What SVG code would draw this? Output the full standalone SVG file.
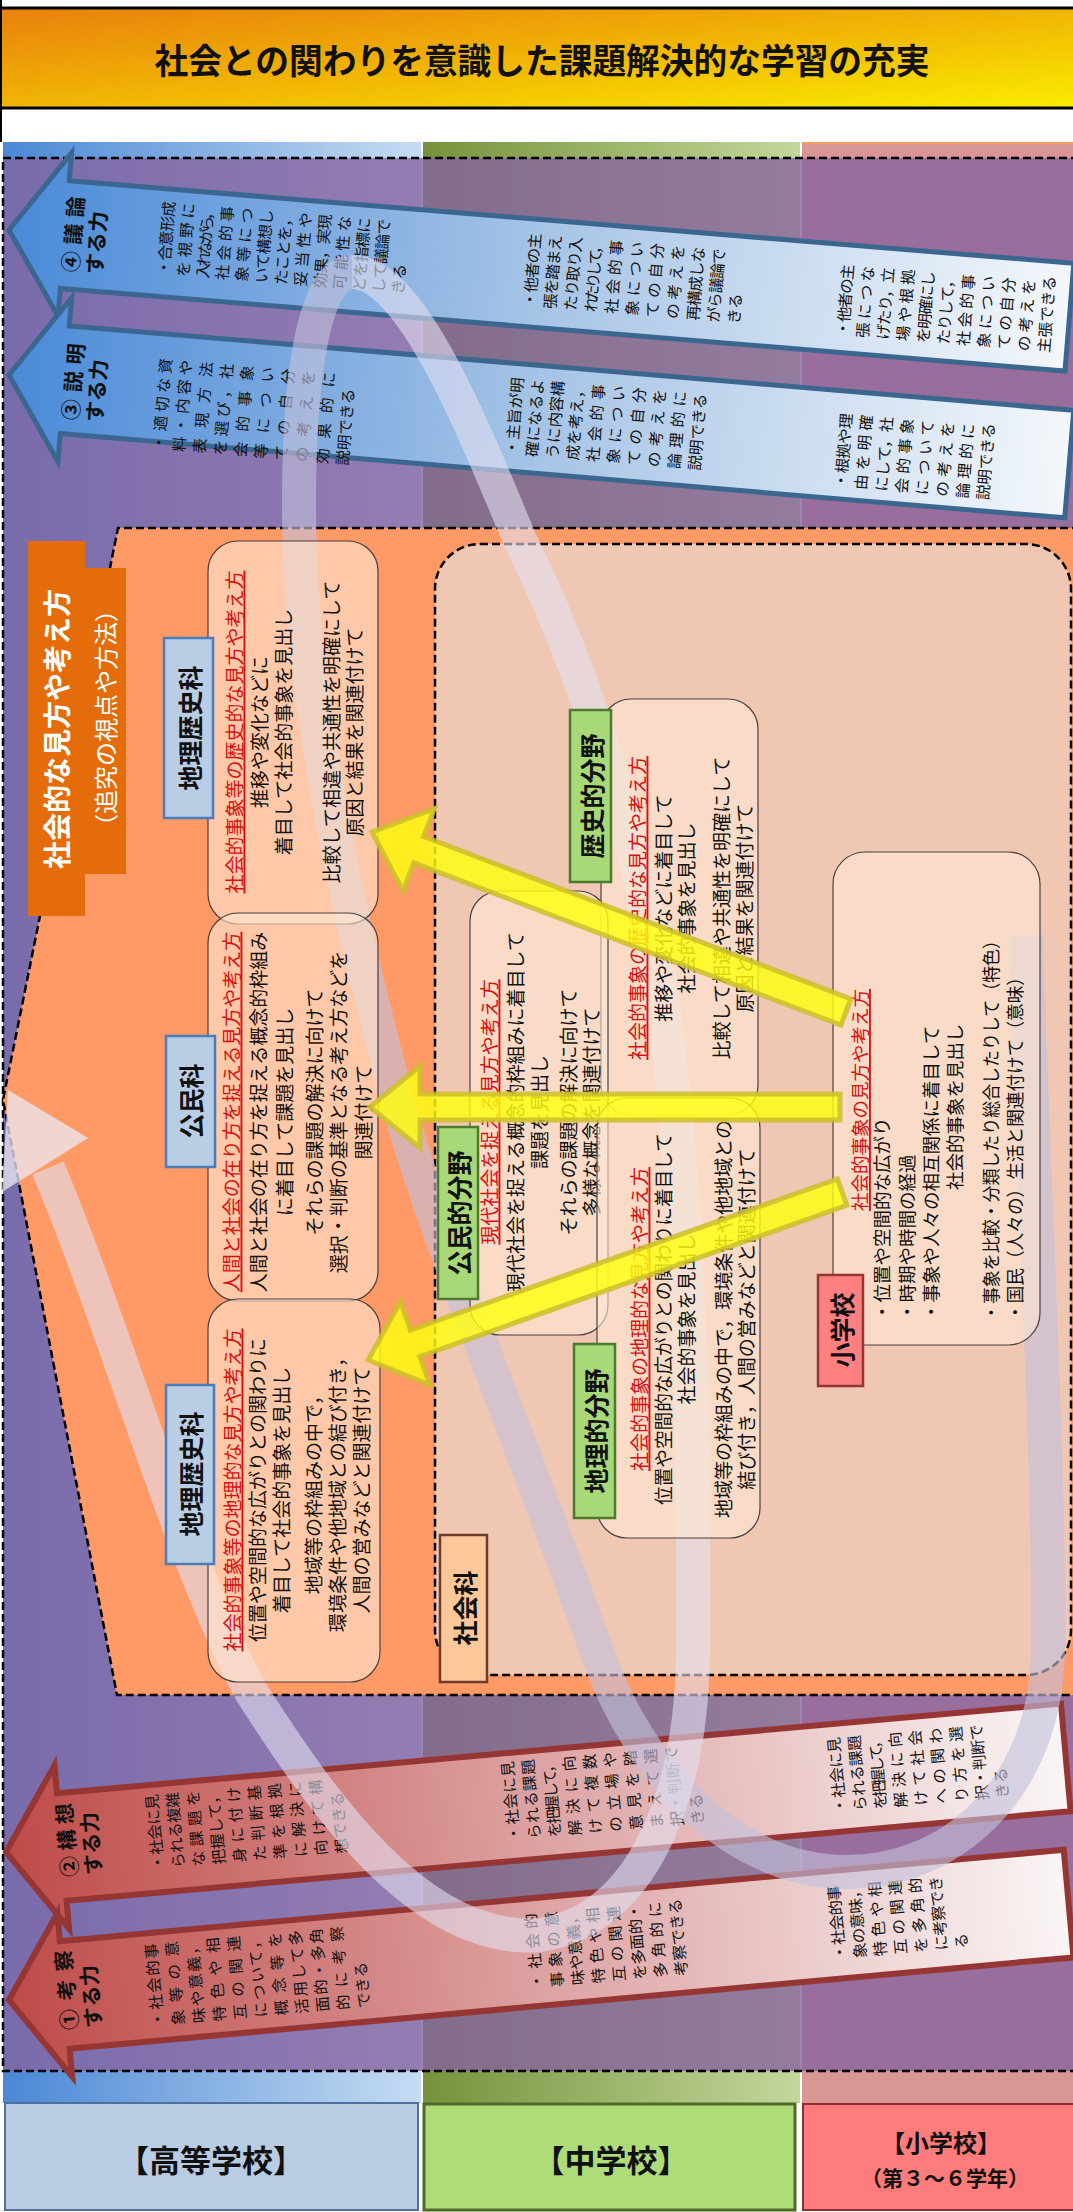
<svg xmlns="http://www.w3.org/2000/svg" width="1073" height="2212" viewBox="0 0 1073 2212">
<defs>
<linearGradient id="gTitle" x1="0" y1="0" x2="1" y2="1"><stop offset="0" stop-color="#E8800C"/><stop offset="0.55" stop-color="#F2BA04"/><stop offset="1" stop-color="#FAEC00"/></linearGradient>
<linearGradient id="gBlueCol" x1="0" y1="0" x2="1" y2="0"><stop offset="0" stop-color="#4A88D6"/><stop offset="1" stop-color="#C6DCF2"/></linearGradient>
<linearGradient id="gGreenCol" x1="0" y1="0" x2="1" y2="0"><stop offset="0" stop-color="#76923C"/><stop offset="1" stop-color="#C4D79B"/></linearGradient>
<linearGradient id="gBlueArrow" x1="0" y1="0" x2="1" y2="0"><stop offset="0" stop-color="#4A8AD8"/><stop offset="0.5" stop-color="#A6C4E6"/><stop offset="1" stop-color="#F4F7FB"/></linearGradient>
<linearGradient id="gRedArrow" x1="0" y1="0" x2="1" y2="0"><stop offset="0" stop-color="#BE4B48"/><stop offset="0.5" stop-color="#DDA2A2"/><stop offset="1" stop-color="#FAF5F5"/></linearGradient>
<path id="bigArrow" d="M0,0 L56,-82 L56,-54 L1064,-54 L1064,54 L56,54 L56,82 Z"/>
<style>
text{font-family:"Noto Sans CJK JP","Noto Sans CJK SC",sans-serif;}
.at text{font-size:15.5px;fill:#111;dominant-baseline:central;}
.al text{font-size:21px;font-weight:bold;fill:#111;dominant-baseline:central;}
.bt text{font-size:19px;fill:#111;text-anchor:middle;dominant-baseline:central;}
.bt text.rh{fill:#D91010;text-decoration:underline;}
.es text{font-size:18.5px;fill:#111;dominant-baseline:central;}
.es text.rh{fill:#D91010;text-decoration:underline;text-anchor:middle;}
.lb text{font-size:25px;font-weight:bold;fill:#111;text-anchor:middle;dominant-baseline:central;}
.blueA{fill:url(#gBlueArrow);stroke:#3B6690;stroke-width:5;stroke-linejoin:miter;}
.redA{fill:url(#gRedArrow);stroke:#963634;stroke-width:6;stroke-linejoin:miter;}
.box{fill:#FFE8D4;fill-opacity:0.6;stroke:#4A4040;stroke-width:1.2;}
.hsLab{fill:#B9CDE5;stroke:#4A7EBB;stroke-width:2.5;}
.msLab{fill:#A8D878;stroke:#4E7A2E;stroke-width:2.5;}
.yel{fill:#FFFF10;fill-opacity:0.82;stroke:#CDBE2A;stroke-width:5;stroke-opacity:0.85;stroke-linejoin:miter;}
.dash{fill:none;stroke:#000;stroke-width:2.5;stroke-dasharray:8 4;}
</style>
</defs>
<rect width="1073" height="2212" fill="#FFFFFF"/>

<!-- title -->
<g id="title">
<rect x="-3" y="8" width="1080" height="100" fill="url(#gTitle)" stroke="#000" stroke-width="3"/>
<line x1="1" y1="0" x2="1" y2="142" stroke="#000" stroke-width="2"/>
<text x="542" y="58" font-size="35" font-weight="bold" textLength="775" lengthAdjust="spacingAndGlyphs" text-anchor="middle" dominant-baseline="central" fill="#111">社会との関わりを意識した課題解決的な学習の充実</text>
</g>

<!-- school columns -->
<g id="columns">
<rect x="3" y="142" width="418" height="1961" fill="url(#gBlueCol)"/>
<rect x="423" y="142" width="377" height="1961" fill="url(#gGreenCol)"/>
<rect x="802" y="142" width="273" height="1961" fill="#D99694"/>
<line x1="802" y1="143" x2="1073" y2="143" stroke="#F0A060" stroke-width="2"/>
<rect x="3" y="158" width="1075" height="1913" fill="#8763A0" fill-opacity="0.79"/>
<rect x="3" y="158" width="1075" height="1913" class="dash"/>
</g>

<!-- big orange area -->
<g id="orange-area">
<path d="M118,528 L1080,528 L1080,1695 L117,1695 L3,1100 Z" fill="#FF9966"/>
<path d="M1080,528 L118,528 L3,1100 L117,1695 L1080,1695" class="dash"/>
<rect x="435" y="544" width="636" height="1131" rx="45" fill="#EFC7B3"/>
<rect x="435" y="544" width="636" height="1131" rx="45" class="dash"/>
</g>

<!-- thinking skill arrows -->
<g id="arrow4">
<use href="#bigArrow" class="blueA" transform="translate(9,230) rotate(4.7)"/>
<g class="al" transform="translate(69,272) rotate(-85.3)"><text y="0" textLength="76" lengthAdjust="spacing">④議論</text><text y="24">する力</text></g>
<g class="at" transform="translate(162,275) rotate(-85.3)">
<text y="0" textLength="74" lengthAdjust="spacing">・合意形成</text><text y="19.6" textLength="74" lengthAdjust="spacing">を視野に</text><text y="39.2" textLength="74" lengthAdjust="spacing">入れながら，</text><text y="58.8" textLength="74" lengthAdjust="spacing">社会的事</text><text y="78.4" textLength="74" lengthAdjust="spacing">象等につ</text><text y="98" textLength="74" lengthAdjust="spacing">いて構想し</text><text y="117.6" textLength="74" lengthAdjust="spacing">たことを，</text><text y="137.2" textLength="74" lengthAdjust="spacing">妥当性や</text><text y="156.8" textLength="74" lengthAdjust="spacing">効果，実現</text><text y="176.4" textLength="74" lengthAdjust="spacing">可能性な</text><text y="196" textLength="74" lengthAdjust="spacing">どを指標に</text><text y="215.6" textLength="74" lengthAdjust="spacing">して議論で</text><text y="235.2">きる</text>
</g>
<g class="at" transform="translate(528,307) rotate(-85.3)">
<text y="0" textLength="74" lengthAdjust="spacing">・他者の主</text><text y="20.5" textLength="74" lengthAdjust="spacing">張を踏まえ</text><text y="41" textLength="74" lengthAdjust="spacing">たり取り入</text><text y="61.5" textLength="74" lengthAdjust="spacing">れたりして，</text><text y="82" textLength="74" lengthAdjust="spacing">社会的事</text><text y="102.5" textLength="74" lengthAdjust="spacing">象につい</text><text y="123" textLength="74" lengthAdjust="spacing">ての自分</text><text y="143.5" textLength="74" lengthAdjust="spacing">の考えを</text><text y="164" textLength="74" lengthAdjust="spacing">再構成しな</text><text y="184.5" textLength="74" lengthAdjust="spacing">がら議論で</text><text y="205">きる</text>
</g>
<g class="at" transform="translate(841,336) rotate(-85.3)">
<text y="0" textLength="72" lengthAdjust="spacing">・他者の主</text><text y="20.2" textLength="72" lengthAdjust="spacing">張につな</text><text y="40.4" textLength="72" lengthAdjust="spacing">げたり，立</text><text y="60.6" textLength="72" lengthAdjust="spacing">場や根拠</text><text y="80.8" textLength="72" lengthAdjust="spacing">を明確にし</text><text y="101" textLength="72" lengthAdjust="spacing">たりして，</text><text y="121.2" textLength="72" lengthAdjust="spacing">社会的事</text><text y="141.4" textLength="72" lengthAdjust="spacing">象につい</text><text y="161.6" textLength="72" lengthAdjust="spacing">ての自分</text><text y="181.8" textLength="72" lengthAdjust="spacing">の考えを</text><text y="202">主張できる</text>
</g>
</g>

<g id="arrow3">
<use href="#bigArrow" class="blueA" transform="translate(9,375) rotate(4.8)"/>
<g class="al" transform="translate(69,420) rotate(-85.2)"><text y="0" textLength="77" lengthAdjust="spacing">③説明</text><text y="24">する力</text></g>
<g class="at" transform="translate(157,450) rotate(-85.2)">
<text y="0" textLength="92" lengthAdjust="spacing">・適切な資</text><text y="20.5" textLength="92" lengthAdjust="spacing">料・内容や</text><text y="41" textLength="92" lengthAdjust="spacing">表現方法</text><text y="61.5" textLength="92" lengthAdjust="spacing">を選び，社</text><text y="82" textLength="92" lengthAdjust="spacing">会的事象</text><text y="102.5" textLength="92" lengthAdjust="spacing">等につい</text><text y="123" textLength="92" lengthAdjust="spacing">ての自分</text><text y="143.5" textLength="92" lengthAdjust="spacing">の考えを</text><text y="164" textLength="92" lengthAdjust="spacing">効果的に</text><text y="184.5">説明できる</text>
</g>
<g class="at" transform="translate(510,455) rotate(-85.2)">
<text y="0" textLength="78" lengthAdjust="spacing">・主旨が明</text><text y="20.4" textLength="78" lengthAdjust="spacing">確になるよ</text><text y="40.8" textLength="78" lengthAdjust="spacing">うに内容構</text><text y="61.2" textLength="78" lengthAdjust="spacing">成を考え，</text><text y="81.6" textLength="78" lengthAdjust="spacing">社会的事</text><text y="102" textLength="78" lengthAdjust="spacing">象につい</text><text y="122.4" textLength="78" lengthAdjust="spacing">ての自分</text><text y="142.8" textLength="78" lengthAdjust="spacing">の考えを</text><text y="163.2" textLength="78" lengthAdjust="spacing">論理的に</text><text y="183.6">説明できる</text>
</g>
<g class="at" transform="translate(839,488) rotate(-85.2)">
<text y="0" textLength="75" lengthAdjust="spacing">・根拠や理</text><text y="20.4" textLength="75" lengthAdjust="spacing">由を明確</text><text y="40.8" textLength="75" lengthAdjust="spacing">にして，社</text><text y="61.2" textLength="75" lengthAdjust="spacing">会的事象</text><text y="81.6" textLength="75" lengthAdjust="spacing">について</text><text y="102" textLength="75" lengthAdjust="spacing">の考えを</text><text y="122.4" textLength="75" lengthAdjust="spacing">論理的に</text><text y="142.8">説明できる</text>
</g>
</g>

<g id="arrow2">
<use href="#bigArrow" class="redA" transform="translate(6,1852) rotate(-5.1)"/>
<g class="al" transform="translate(69,1877) rotate(-95.1)"><text y="0" textLength="74" lengthAdjust="spacing">②構想</text><text y="24">する力</text></g>
<g class="at" transform="translate(157,1870) rotate(-95.1)">
<text y="0" textLength="76" lengthAdjust="spacing">・社会に見</text><text y="20.5" textLength="76" lengthAdjust="spacing">られる複雑</text><text y="41" textLength="76" lengthAdjust="spacing">な課題を</text><text y="61.5" textLength="76" lengthAdjust="spacing">把握して，</text><text y="82" textLength="76" lengthAdjust="spacing">身に付け</text><text y="102.5" textLength="76" lengthAdjust="spacing">た判断基</text><text y="123" textLength="76" lengthAdjust="spacing">準を根拠</text><text y="143.5" textLength="76" lengthAdjust="spacing">に解決に</text><text y="164" textLength="76" lengthAdjust="spacing">向けて構</text><text y="184.5">想できる</text>
</g>
<g class="at" transform="translate(513,1841) rotate(-95.1)">
<text y="0" textLength="80" lengthAdjust="spacing">・社会に見</text><text y="20.5" textLength="80" lengthAdjust="spacing">られる課題</text><text y="41" textLength="80" lengthAdjust="spacing">を把握して，</text><text y="61.5" textLength="80" lengthAdjust="spacing">解決に向</text><text y="82" textLength="80" lengthAdjust="spacing">けて複数</text><text y="102.5" textLength="80" lengthAdjust="spacing">の立場や</text><text y="123" textLength="80" lengthAdjust="spacing">意見を踏</text><text y="143.5" textLength="80" lengthAdjust="spacing">まえて選</text><text y="164" textLength="80" lengthAdjust="spacing">択・判断で</text><text y="184.5">きる</text>
</g>
<g class="at" transform="translate(839,1813) rotate(-95.1)">
<text y="0" textLength="76" lengthAdjust="spacing">・社会に見</text><text y="20.4" textLength="76" lengthAdjust="spacing">られる課題</text><text y="40.8" textLength="76" lengthAdjust="spacing">を把握して，</text><text y="61.2" textLength="76" lengthAdjust="spacing">解決に向</text><text y="81.6" textLength="76" lengthAdjust="spacing">けて社会</text><text y="102" textLength="76" lengthAdjust="spacing">への関わ</text><text y="122.4" textLength="76" lengthAdjust="spacing">り方を選</text><text y="142.8" textLength="76" lengthAdjust="spacing">択・判断で</text><text y="163.2">きる</text>
</g>
</g>

<g id="arrow1">
<use href="#bigArrow" class="redA" transform="translate(9,2000) rotate(-5.2)"/>
<g class="al" transform="translate(69,2030) rotate(-95.2)"><text y="0" textLength="80" lengthAdjust="spacing">①考察</text><text y="24">する力</text></g>
<g class="at" transform="translate(157,2027) rotate(-95.2)">
<text y="0" textLength="84" lengthAdjust="spacing">・社会的事</text><text y="20.7" textLength="84" lengthAdjust="spacing">象等の意</text><text y="41.4" textLength="84" lengthAdjust="spacing">味や意義，</text><text y="62.1" textLength="84" lengthAdjust="spacing">特色や相</text><text y="82.8" textLength="84" lengthAdjust="spacing">互の関連</text><text y="103.5" textLength="84" lengthAdjust="spacing">について，</text><text y="124.2" textLength="84" lengthAdjust="spacing">概念等を</text><text y="144.9" textLength="84" lengthAdjust="spacing">活用して多</text><text y="165.6" textLength="84" lengthAdjust="spacing">面的・多角</text><text y="186.3" textLength="84" lengthAdjust="spacing">的に考察</text><text y="207">できる</text>
</g>
<g class="at" transform="translate(536,1989) rotate(-95.2)">
<text y="0" textLength="76" lengthAdjust="spacing">・社会的</text><text y="20.7" textLength="76" lengthAdjust="spacing">事象の意</text><text y="41.4" textLength="76" lengthAdjust="spacing">味や意義，</text><text y="62.1" textLength="76" lengthAdjust="spacing">特色や相</text><text y="82.8" textLength="76" lengthAdjust="spacing">互の関連</text><text y="103.5" textLength="76" lengthAdjust="spacing">を多面的・</text><text y="124.2" textLength="76" lengthAdjust="spacing">多角的に</text><text y="144.9">考察できる</text>
</g>
<g class="at" transform="translate(839,1960) rotate(-95.2)">
<text y="0" textLength="75" lengthAdjust="spacing">・社会的事</text><text y="20.4" textLength="75" lengthAdjust="spacing">象の意味，</text><text y="40.8" textLength="75" lengthAdjust="spacing">特色や相</text><text y="61.2" textLength="75" lengthAdjust="spacing">互の関連</text><text y="81.6" textLength="75" lengthAdjust="spacing">を多角的</text><text y="102" textLength="75" lengthAdjust="spacing">に考察でき</text><text y="122.4">る</text>
</g>
</g>

<!-- spiral bands -->
<g id="connectors">
<path d="M1026,936 C1034,1200 1050,1480 1048,1650 C1046,1790 950,1875 840,1872 C730,1868 640,1770 600,1660 C540,1490 440,1250 400,1110 C360,960 310,760 300,560 C295,400 310,272 352,272" fill="none" stroke="#C4C0DC" stroke-opacity="0.62" stroke-width="34"/>
<path d="M352,272 C410,272 470,420 520,540 C560,620 600,720 640,880 C680,1050 695,1300 693,1650 C692,1800 640,1920 540,1935 C420,1945 320,1800 250,1690 C180,1560 120,1340 48,1168" fill="none" stroke="#E2E0F0" stroke-opacity="0.6" stroke-width="34"/>
<polygon points="8,1090 88,1138 2,1192" fill="#ECEAF4" fill-opacity="0.75"/>
</g>

<!-- orange heading -->
<g id="viewpoint-label">
<path d="M28,541 H85 V568 H126 V874 H85 V916 H28 Z" fill="#E46C0A"/>
<g transform="translate(0,729) rotate(-90)"><text x="0" y="56" font-size="28" font-weight="bold" fill="#FFFFFF" text-anchor="middle" dominant-baseline="central">社会的な見方や考え方</text></g>
<g transform="translate(0,718) rotate(-90)"><text x="0" y="104" font-size="24" fill="#FFFFFF" text-anchor="middle" dominant-baseline="central">（追究の視点や方法）</text></g>
</g>

<!-- high school boxes -->
<g id="hs-history">
<rect x="208" y="541" width="170" height="383" rx="30" class="box"/>
<g class="bt" transform="translate(0,732) rotate(-90)">
<text class="rh" y="233">社会的事象等の歴史的な見方や考え方</text>
<text y="258">推移や変化などに</text>
<text y="282">着目して社会的事象を見出し</text>
<text y="330">比較して相違や共通性を明確にして</text>
<text y="353">原因と結果を関連付けて</text>
</g>
<rect x="164" y="638" width="49" height="180" class="hsLab"/>
<g class="lb" transform="translate(0,728) rotate(-90)"><text y="189">地理歴史科</text></g>
</g>

<g id="hs-civics">
<rect x="208" y="913" width="170" height="388" rx="30" class="box"/>
<g class="bt" transform="translate(0,1112) rotate(-90)">
<text class="rh" y="230">人間と社会の在り方を捉える見方や考え方</text>
<text y="257">人間と社会の在り方を捉える概念的枠組み</text>
<text y="283">に着目して課題を見出し</text>
<text y="313">それらの課題の解決に向けて</text>
<text y="337">選択・判断の基準となる考え方などを</text>
<text y="362">関連付けて</text>
</g>
<rect x="166" y="1036" width="49" height="131" class="hsLab"/>
<g class="lb" transform="translate(0,1101) rotate(-90)"><text y="190">公民科</text></g>
</g>

<g id="hs-geography">
<rect x="208" y="1299" width="172" height="383" rx="30" class="box"/>
<g class="bt" transform="translate(0,1490) rotate(-90)">
<text class="rh" y="231">社会的事象等の地理的な見方や考え方</text>
<text y="256">位置や空間的な広がりとの関わりに</text>
<text y="280">着目して社会的事象を見出し</text>
<text y="312">地域等の枠組みの中で，</text>
<text y="336">環境条件や他地域との結び付き，</text>
<text y="360">人間の営みなどと関連付けて</text>
</g>
<rect x="166" y="1385" width="48" height="179" class="hsLab"/>
<g class="lb" transform="translate(0,1474) rotate(-90)"><text y="190">地理歴史科</text></g>
</g>

<!-- junior high boxes -->
<g id="ms-history">
<rect x="601" y="699" width="157" height="416" rx="30" class="box"/>
<g class="bt" transform="translate(0,908) rotate(-90)">
<text class="rh" y="636">社会的事象の歴史的な見方や考え方</text>
<text y="662">推移や変化などに着目して</text>
<text y="685">社会的事象を見出し</text>
<text y="720">比較して相違や共通性を明確にして</text>
<text y="743">原因と結果を関連付けて</text>
</g>
<rect x="570" y="710" width="41" height="172" class="msLab"/>
<g class="lb" transform="translate(0,796) rotate(-90)"><text y="590.5">歴史的分野</text></g>
</g>

<g id="ms-civics">
<rect x="470" y="891" width="138" height="444" rx="30" class="box"/>
<g class="bt" transform="translate(0,1112) rotate(-90)">
<text class="rh" y="488">現代社会を捉える見方や考え方</text>
<text y="514">現代社会を捉える概念的枠組みに着目して</text>
<text y="538">課題を見出し</text>
<text y="567">それらの課題の解決に向けて</text>
<text y="590">多様な概念を関連付けて</text>
</g>
<rect x="438" y="1127" width="40" height="172" class="msLab"/>
<g class="lb" transform="translate(0,1213) rotate(-90)"><text y="458">公民的分野</text></g>
</g>

<g id="ms-geography">
<rect x="597" y="1098" width="163" height="440" rx="30" class="box"/>
<g class="bt" transform="translate(0,1319) rotate(-90)">
<text class="rh" y="638">社会的事象の地理的な見方や考え方</text>
<text y="662" textLength="372" lengthAdjust="spacingAndGlyphs">位置や空間的な広がりとの関わりに着目して</text>
<text y="685">社会的事象を見出し</text>
<text y="722" textLength="398" lengthAdjust="spacingAndGlyphs">地域等の枠組みの中で，環境条件や他地域との</text>
<text y="745">結び付き，人間の営みなどと関連付けて</text>
</g>
<rect x="574" y="1344" width="41" height="174" class="msLab"/>
<g class="lb" transform="translate(0,1431) rotate(-90)"><text y="594.5">地理的分野</text></g>
</g>

<!-- elementary box -->
<g id="es-box">
<rect x="833" y="852" width="207" height="493" rx="32" class="box"/>
<g class="es" transform="translate(0,1100) rotate(-90)">
<text class="rh" x="0" y="859">社会的事象の見方や考え方</text>
<text x="-221" y="881">・位置や空間的な広がり</text>
<text x="-221" y="906">・時期や時間の経過</text>
<text x="-221" y="930">・事象や人々の相互関係に着目して</text>
<text x="-90" y="954">社会的事象を見出し</text>
<text x="-221" y="990" textLength="389" lengthAdjust="spacingAndGlyphs">・事象を比較・分類したり総合したりして（特色）</text>
<text x="-221" y="1014" textLength="353" lengthAdjust="spacingAndGlyphs">・国民（人々の）生活と関連付けて（意味）</text>
</g>
<rect x="818" y="1275" width="45" height="111" fill="#FF8080" stroke="#943634" stroke-width="2.5"/>
<g class="lb" transform="translate(0,1330) rotate(-90)"><text y="840.5" font-size="23">小学校</text></g>
</g>

<g id="social-studies-label">
<rect x="440" y="1535" width="47" height="147" fill="#FCC89A" stroke="#6E3A2E" stroke-width="2.5"/>
<g class="lb" transform="translate(0,1608) rotate(-90)"><text y="463.5" font-size="30">社会科</text></g>
</g>

<!-- yellow arrows -->
<g id="yellow-arrows">
<path class="yel" d="M0,0 L50,-44 L50,-14 L507,-14 L507,14 L50,14 L50,44 Z" transform="translate(372,832) rotate(20.8)"/>
<path class="yel" d="M0,0 L50,-41 L50,-13 L470,-13 L470,13 L50,13 L50,41 Z" transform="translate(370,1107)"/>
<path class="yel" d="M0,0 L50,-44 L50,-14 L503,-14 L503,14 L50,14 L50,44 Z" transform="translate(368,1360) rotate(-19.5)"/>
</g>

<!-- school labels -->
<g id="school-hs">
<rect x="5" y="2103" width="413" height="107" fill="#B8CCE4" stroke="#4F6F9F" stroke-width="2"/>
<text x="211" y="2158" font-size="31" font-weight="bold" text-anchor="middle" dominant-baseline="central" fill="#111">【高等学校】</text>
</g>
<g id="school-ms">
<rect x="424" y="2104" width="371" height="106" fill="#AEDC78" stroke="#4E6B2A" stroke-width="3"/>
<text x="611" y="2158" font-size="31" font-weight="bold" text-anchor="middle" dominant-baseline="central" fill="#111">【中学校】</text>
</g>
<g id="school-es">
<rect x="803" y="2104" width="272" height="106" fill="#FF7C7C" stroke="#8B3030" stroke-width="2"/>
<text x="941" y="2141" font-size="24" font-weight="bold" text-anchor="middle" dominant-baseline="central" fill="#111">【小学校】</text>
<text x="945" y="2177" font-size="21" font-weight="bold" text-anchor="middle" dominant-baseline="central" fill="#111">（第３～６学年）</text>
</g>
</svg>
